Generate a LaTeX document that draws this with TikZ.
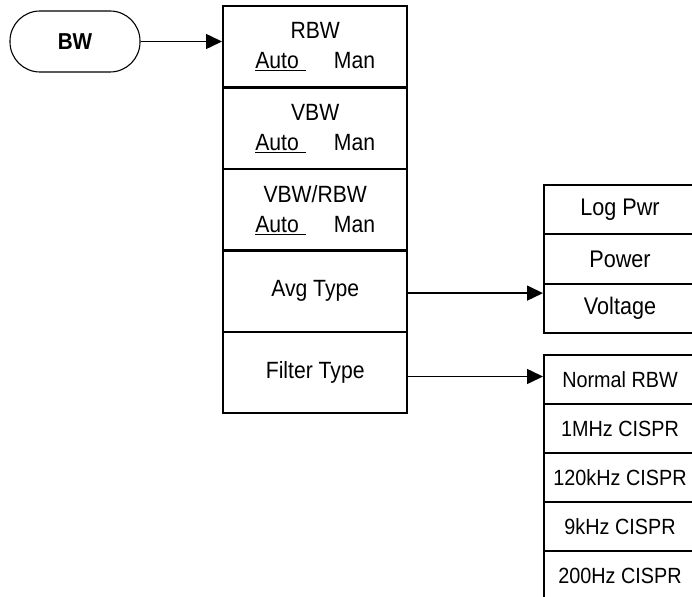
\documentclass[tikz,border=0pt]{standalone}
\usepackage{fontspec}
\setmainfont{Liberation Sans}[FakeStretch=0.9]
\usetikzlibrary{arrows.meta}
\newcommand{\automan}{\underline{Auto\hspace{7pt}}\hspace{28pt}Man}
\begin{document}
\begin{tikzpicture}[
  x=1pt, y=-1pt,
  every node/.style={inner sep=0pt, align=center},
  hardkey/.style={
    draw,
    line width=1.1pt,
    rounded corners=30pt,
    minimum width=130pt,
    minimum height=61pt,
    font=\bfseries\fontsize{23}{26}\selectfont
  },
  softkey/.style={
    draw,
    line width=2.4pt,
    anchor=north west,
    minimum width=184pt,
    minimum height=81.4pt,
    font=\fontsize{23.5}{30}\selectfont
  },
  sublist/.style={
    draw,
    line width=2pt,
    anchor=north west,
    minimum width=152pt,
    minimum height=49.3pt,
    font=\fontsize{24}{26}\selectfont
  },
  filterkey/.style={sublist, minimum height=49pt, font=\fontsize{22}{24}\selectfont},
  arrow/.style={-{Triangle[length=16pt,width=15pt]}, line width=1.5pt}
]
\path[use as bounding box, clip] (0,0) rectangle (692,596);

\node[hardkey] (bw) at (75,41.5) {BW};

\node[softkey] (rbw) at (222,5) {RBW\\\automan};
\node[softkey] (vbw) at (222,86.4) {VBW\\\automan};
\node[softkey] (ratio) at (222,167.8) {VBW/RBW\\\automan};
\node[softkey] (avg) at (222,249.2) {Avg Type};
\node[softkey] (filter) at (222,330.6) {Filter Type};

\node[sublist] (logpwr) at (543,184) {Log Pwr};
\node[sublist] (power) at (543,233.3) {Power};
\node[sublist] (voltage) at (543,282.6) {Voltage};

\node[filterkey] (normal) at (543,354) {Normal RBW};
\node[filterkey] (onemhz) at (543,403) {1MHz CISPR};
\node[filterkey] (onetwenty) at (543,452) {120kHz CISPR};
\node[filterkey] (ninekhz) at (543,501) {9kHz CISPR};
\node[filterkey] (twohundred) at (543,550) {200Hz CISPR};

\draw[arrow] (bw.east) -- (bw.east -| rbw.west);
\draw[arrow] ([yshift=-2pt]avg.east) -- ([yshift=-2pt]avg.east -| voltage.west);
\draw[arrow] ([yshift=-4pt]filter.east) -- ([yshift=-4pt]filter.east -| normal.west);
\end{tikzpicture}
\end{document}
